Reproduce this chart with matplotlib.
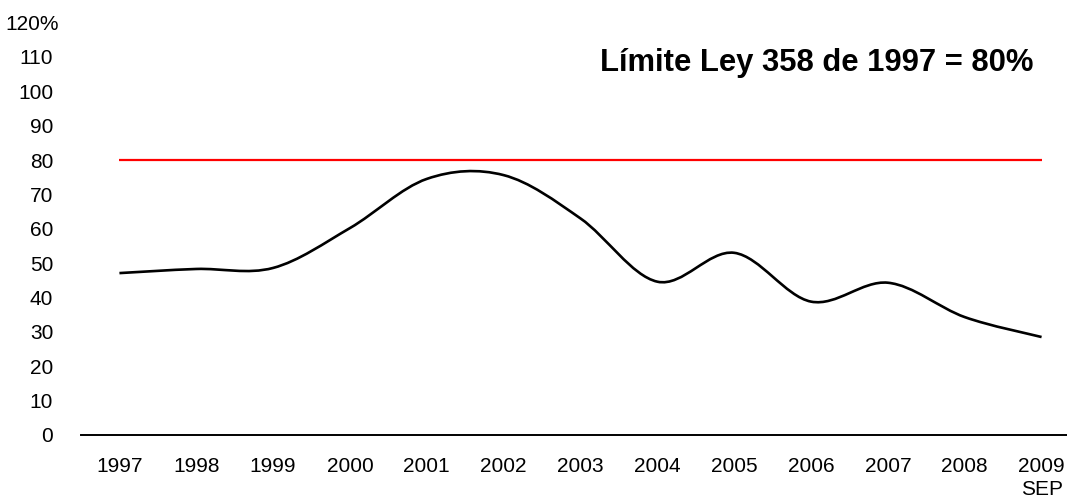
import matplotlib
matplotlib.use("Agg")
import matplotlib.pyplot as plt
from matplotlib.path import Path
from matplotlib.patches import PathPatch
from matplotlib.transforms import ScaledTranslation
import numpy as np

plt.rcParams["font.family"] = ["Liberation Sans", "DejaVu Sans"]

# Debt indicator by year (% of limit base)
years = ["1997", "1998", "1999", "2000", "2001", "2002", "2003",
         "2004", "2005", "2006", "2007", "2008", "2009\nSEP"]
ratio = [47.1, 48.3, 48.6, 60.2, 74.5, 75.6, 63.0,
         44.6, 53.0, 38.8, 44.3, 34.3, 28.5]
limit = 80
y_ticks = [0, 10, 20, 30, 40, 50, 60, 70, 80, 90, 100, 110, 120]
y_tick_labels = ["0", "10", "20", "30", "40", "50", "60", "70", "80",
                 "90", "100", "110", "120%"]
title = "Límite Ley 358 de 1997 = 80%"

W, H, DPI = 1067, 500, 100
fig = plt.figure(figsize=(W / DPI, H / DPI), dpi=DPI)
ax = fig.add_axes([81 / W, 65 / H, 999 / W, 412.5 / H])

x = np.arange(len(years))


def smooth_path(xs, ys):
    """Cubic Bezier path through the points (Catmull-Rom style smoothing)."""
    pts = np.column_stack([xs, ys]).astype(float)
    n = len(pts)
    verts = [pts[0]]
    codes = [Path.MOVETO]
    for i in range(n - 1):
        p0 = pts[i - 1] if i > 0 else pts[i]
        p1 = pts[i]
        p2 = pts[i + 1]
        p3 = pts[i + 2] if i + 2 < n else pts[i + 1]
        c1 = p1 + (p2 - p0) / 6.0
        c2 = p2 - (p3 - p1) / 6.0
        verts += [c1, c2, p2]
        codes += [Path.CURVE4] * 3
    return Path(verts, codes)


ax.plot([x[0], x[-1]], [limit, limit], color="#ff0000", lw=1.6,
        solid_capstyle="butt")
ax.add_patch(PathPatch(smooth_path(x, ratio), facecolor="none",
                       edgecolor="black", lw=1.9))

ax.set_xlim(-0.5, len(years) - 0.5)
ax.set_ylim(0, 120)
ax.set_xticks(x)
ax.set_xticklabels(years, fontsize=15, linespacing=1.25)
ax.set_yticks(y_ticks)
ax.set_yticklabels(y_tick_labels, fontsize=15)
ax.tick_params(axis="both", length=0)
ax.tick_params(axis="y", pad=20)
ax.tick_params(axis="x", pad=16)

for side in ("left", "right", "top"):
    ax.spines[side].set_visible(False)
ax.spines["bottom"].set_linewidth(1.4)

# the top label carries the unit and sits a little further right
top_lbl = ax.get_yticklabels()[-1]
top_lbl.set_transform(top_lbl.get_transform()
                      + ScaledTranslation(6 / DPI, 0, fig.dpi_scale_trans))

fig.text(600 / W, 1 - 63 / H, title, fontsize=22.3, fontweight="bold",
         ha="left", va="center")

fig.savefig("out.png", dpi=DPI)
